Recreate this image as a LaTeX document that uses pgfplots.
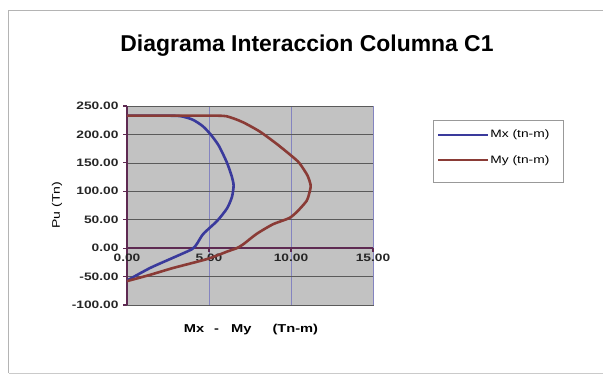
\documentclass[border=0pt]{standalone}
\usepackage{fontspec}
\setmainfont{Liberation Sans}
\newfontfamily\widefont[FakeStretch=1.28]{Liberation Sans}
\usepackage{pgfplots}
\pgfplotsset{compat=1.18}

\definecolor{mxcol}{HTML}{3A3A9C}
\definecolor{mycol}{HTML}{8A3B36}
\definecolor{axiscol}{HTML}{5E2A52}
\definecolor{plotbg}{HTML}{C2C2C2}
\definecolor{hgrid}{HTML}{5A5A5A}
\definecolor{vgrid}{HTML}{8484C0}
\definecolor{framecol}{HTML}{B4B4B4}

\begin{document}
\begin{tikzpicture}[x=1bp,y=1bp]
  \useasboundingbox (0,0) rectangle (603,375);
  % chart frame
  \draw[framecol, line width=1bp] (8.5,2) -- (8.5,364) -- (612,364);
  \draw[framecol!70, line width=1bp] (8.5,2) -- (612,2);
  % title
  \node[font=\bfseries\fontsize{23}{26}\selectfont] at (307,329) {Diagrama Interaccion Columna C1};
  % axis titles
  \node[rotate=90, font=\widefont\fontsize{11}{13}\selectfont] at (57,170) {Pu (Tn)};
  \node[font=\widefont\bfseries\fontsize{11.5}{13}\selectfont] at (251,45)
    {Mx\hspace{10bp}-\hspace{12bp}My\hspace{21bp}(Tn-m)};
  % legend frame
  \draw[gray!80, line width=0.8bp] (433,193) rectangle (563,255);

  \begin{axis}[
    at={(127bp,70bp)}, anchor=south west,
    scale only axis, width=246bp, height=199bp,
    xmin=0, xmax=15, ymin=-100, ymax=250,
    axis x line=middle, axis y line=left,
    axis line style={-, draw=axiscol, line width=1.6bp},
    hide obscured x ticks=false, hide obscured y ticks=false,
    xtick={0,5,10,15}, ytick={-100,-50,...,250},
    tick align=outside, major tick length=4bp,
    tick style={draw=axiscol, line width=1.2bp},
    xmajorgrids, ymajorgrids,
    x grid style={vgrid, line width=0.6bp},
    y grid style={hgrid, line width=0.7bp},
    axis background/.style={fill=plotbg, draw=gray!70!black, line width=0.8bp},
    /pgf/number format/assume math mode=true,
    /pgf/number format/.cd, fixed, fixed zerofill, precision=2,
    /pgfplots/.cd,
    ticklabel style={font=\widefont\bfseries\fontsize{10.8}{12}\selectfont, text=black!85},
    xticklabel style={yshift=2bp},
    yticklabel style={xshift=-1bp},
    legend style={at={(1.2600,0.8845)}, anchor=north west,
      draw=none, fill=none, inner xsep=0bp, inner ysep=0bp,
      font=\widefont\fontsize{10.8}{12}\selectfont,
      row sep=14bp,
      nodes={inner xsep=1.5bp, inner ysep=1bp}},
    legend cell align=left,
    legend image code/.code={\draw[#1, line width=1.8bp] (0bp,0bp) -- (50bp,0bp);},
  ]
    \addplot[mxcol, line width=2.6bp, smooth, tension=0.4] coordinates {
      (0,233) (2.5,233) (3.3,232) (4.0,226) (4.6,215) (5.1,200) (5.6,180)
      (6.1,150) (6.4,125) (6.5,110) (6.4,90) (6.1,70) (5.5,48) (4.65,25)
      (4.25,7) (3.95,-2) (2.8,-17) (1.4,-35) (0,-57)
    };
    \addlegendentry{Mx (tn-m)}
    \addplot[mycol, line width=2.6bp, smooth, tension=0.4] coordinates {
      (0,233) (5.5,233) (6.3,230) (7.1,221) (8.1,205) (9.1,184) (10.0,163)
      (10.5,150) (11.0,128) (11.2,110) (11.1,95) (10.95,83) (10.4,65)
      (9.9,53) (8.9,42) (7.9,25) (7.1,7) (6.7,0) (6.2,-5) (4.9,-19)
      (2.8,-35) (1.4,-47) (0,-58)
    };
    \addlegendentry{My (tn-m)}
  \end{axis}
\end{tikzpicture}
\end{document}
